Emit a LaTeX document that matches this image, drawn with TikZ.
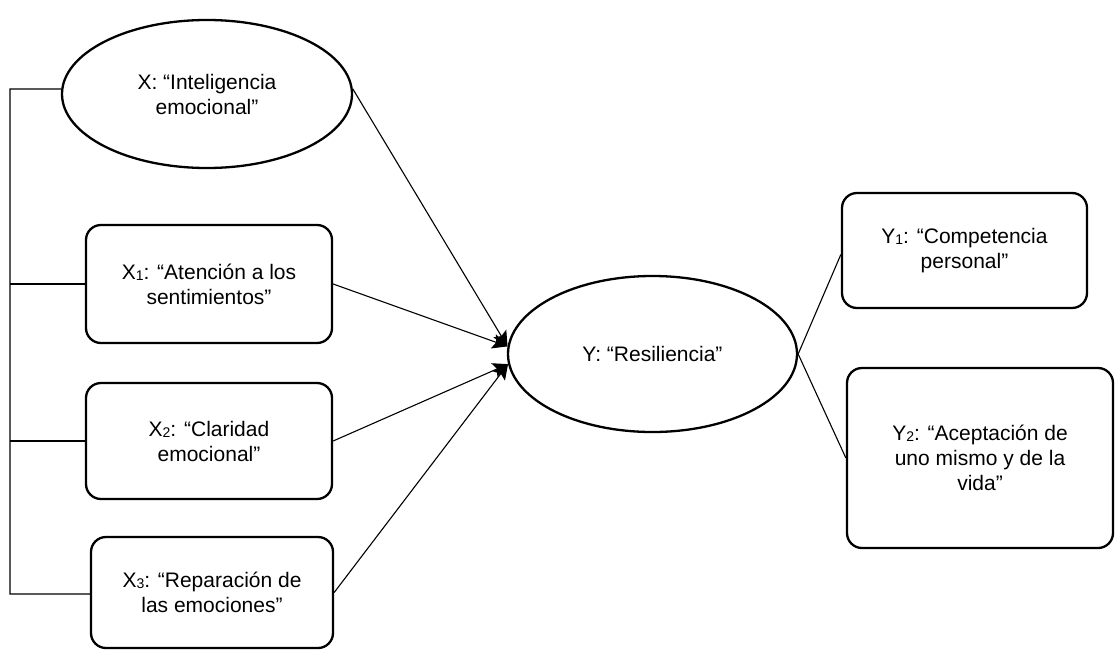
\documentclass[tikz,border=0pt]{standalone}
\usepackage{fontspec}
\setmainfont{Liberation Sans}
\usetikzlibrary{shapes.geometric,arrows.meta}
\newcommand{\sbs}[1]{{\fontsize{14}{14}\selectfont\raisebox{-1pt}{#1}}}
\tikzset{
  txt/.style={font=\fontsize{21}{25}\selectfont, align=center, inner sep=0pt},
  ell/.style={txt, draw, ellipse, line width=2.3pt},
  rbox/.style={txt, draw, rectangle, rounded corners=15pt, line width=2.3pt},
  conn/.style={line width=1.1pt},
  arr/.style={line width=1.1pt, -{Stealth[length=15pt,width=15pt,inset=3pt]}},
  brk/.style={line width=1.3pt}
}
\begin{document}
\begin{tikzpicture}[x=1pt,y=-1pt]
\useasboundingbox (0,0) rectangle (1115,650);
% left side
\node[ell, minimum width=290pt, minimum height=148pt] (X) at (207,94) {X: “Inteligencia\\emocional”};
\node[rbox, minimum width=246pt, minimum height=118pt] (X1) at (209,284) {X\sbs{1}: “Atención a los\\sentimientos”};
\node[rbox, minimum width=246pt, minimum height=116pt] (X2) at (209,441) {X\sbs{2}: “Claridad\\emocional”};
\node[rbox, minimum width=242pt, minimum height=111pt] (X3) at (212,592.5) {X\sbs{3}: “Reparación de\\las emociones”};
% centre
\node[ell, minimum width=289pt, minimum height=156pt] (Y) at (652.5,354) {Y: “Resiliencia”};
% right side
\node[rbox, minimum width=245pt, minimum height=115pt] (Y1) at (964.5,250.5) {Y\sbs{1}: “Competencia\\personal”};
\node[rbox, minimum width=266pt, minimum height=180pt] (Y2) at (980,458) {Y\sbs{2}: “Aceptación de\\uno mismo y de la\\vida”};
% bracket
\coordinate (bt) at (10,89);
\coordinate (bb) at (10,594);
\draw[brk] (X.178) -- (bt) -- (bb) -- (bb -| X3.west);
\draw[brk] (X1.west) -- (X1.west -| bt);
\draw[brk] (X2.west) -- (X2.west -| bt);
% arrows into Y
\draw[arr] (X.2) -- (Y.177);
\draw[arr] (X1.east) -- (Y.177);
\draw[arr] (X2.east) -- (Y.184);
\draw[arr] (X3.east) -- (Y.184);
% Y to indicators
\draw[conn] (Y.east) -- ([yshift=-4pt]Y1.west);
\draw[conn] (Y.east) -- (Y2.west);
\end{tikzpicture}
\end{document}
